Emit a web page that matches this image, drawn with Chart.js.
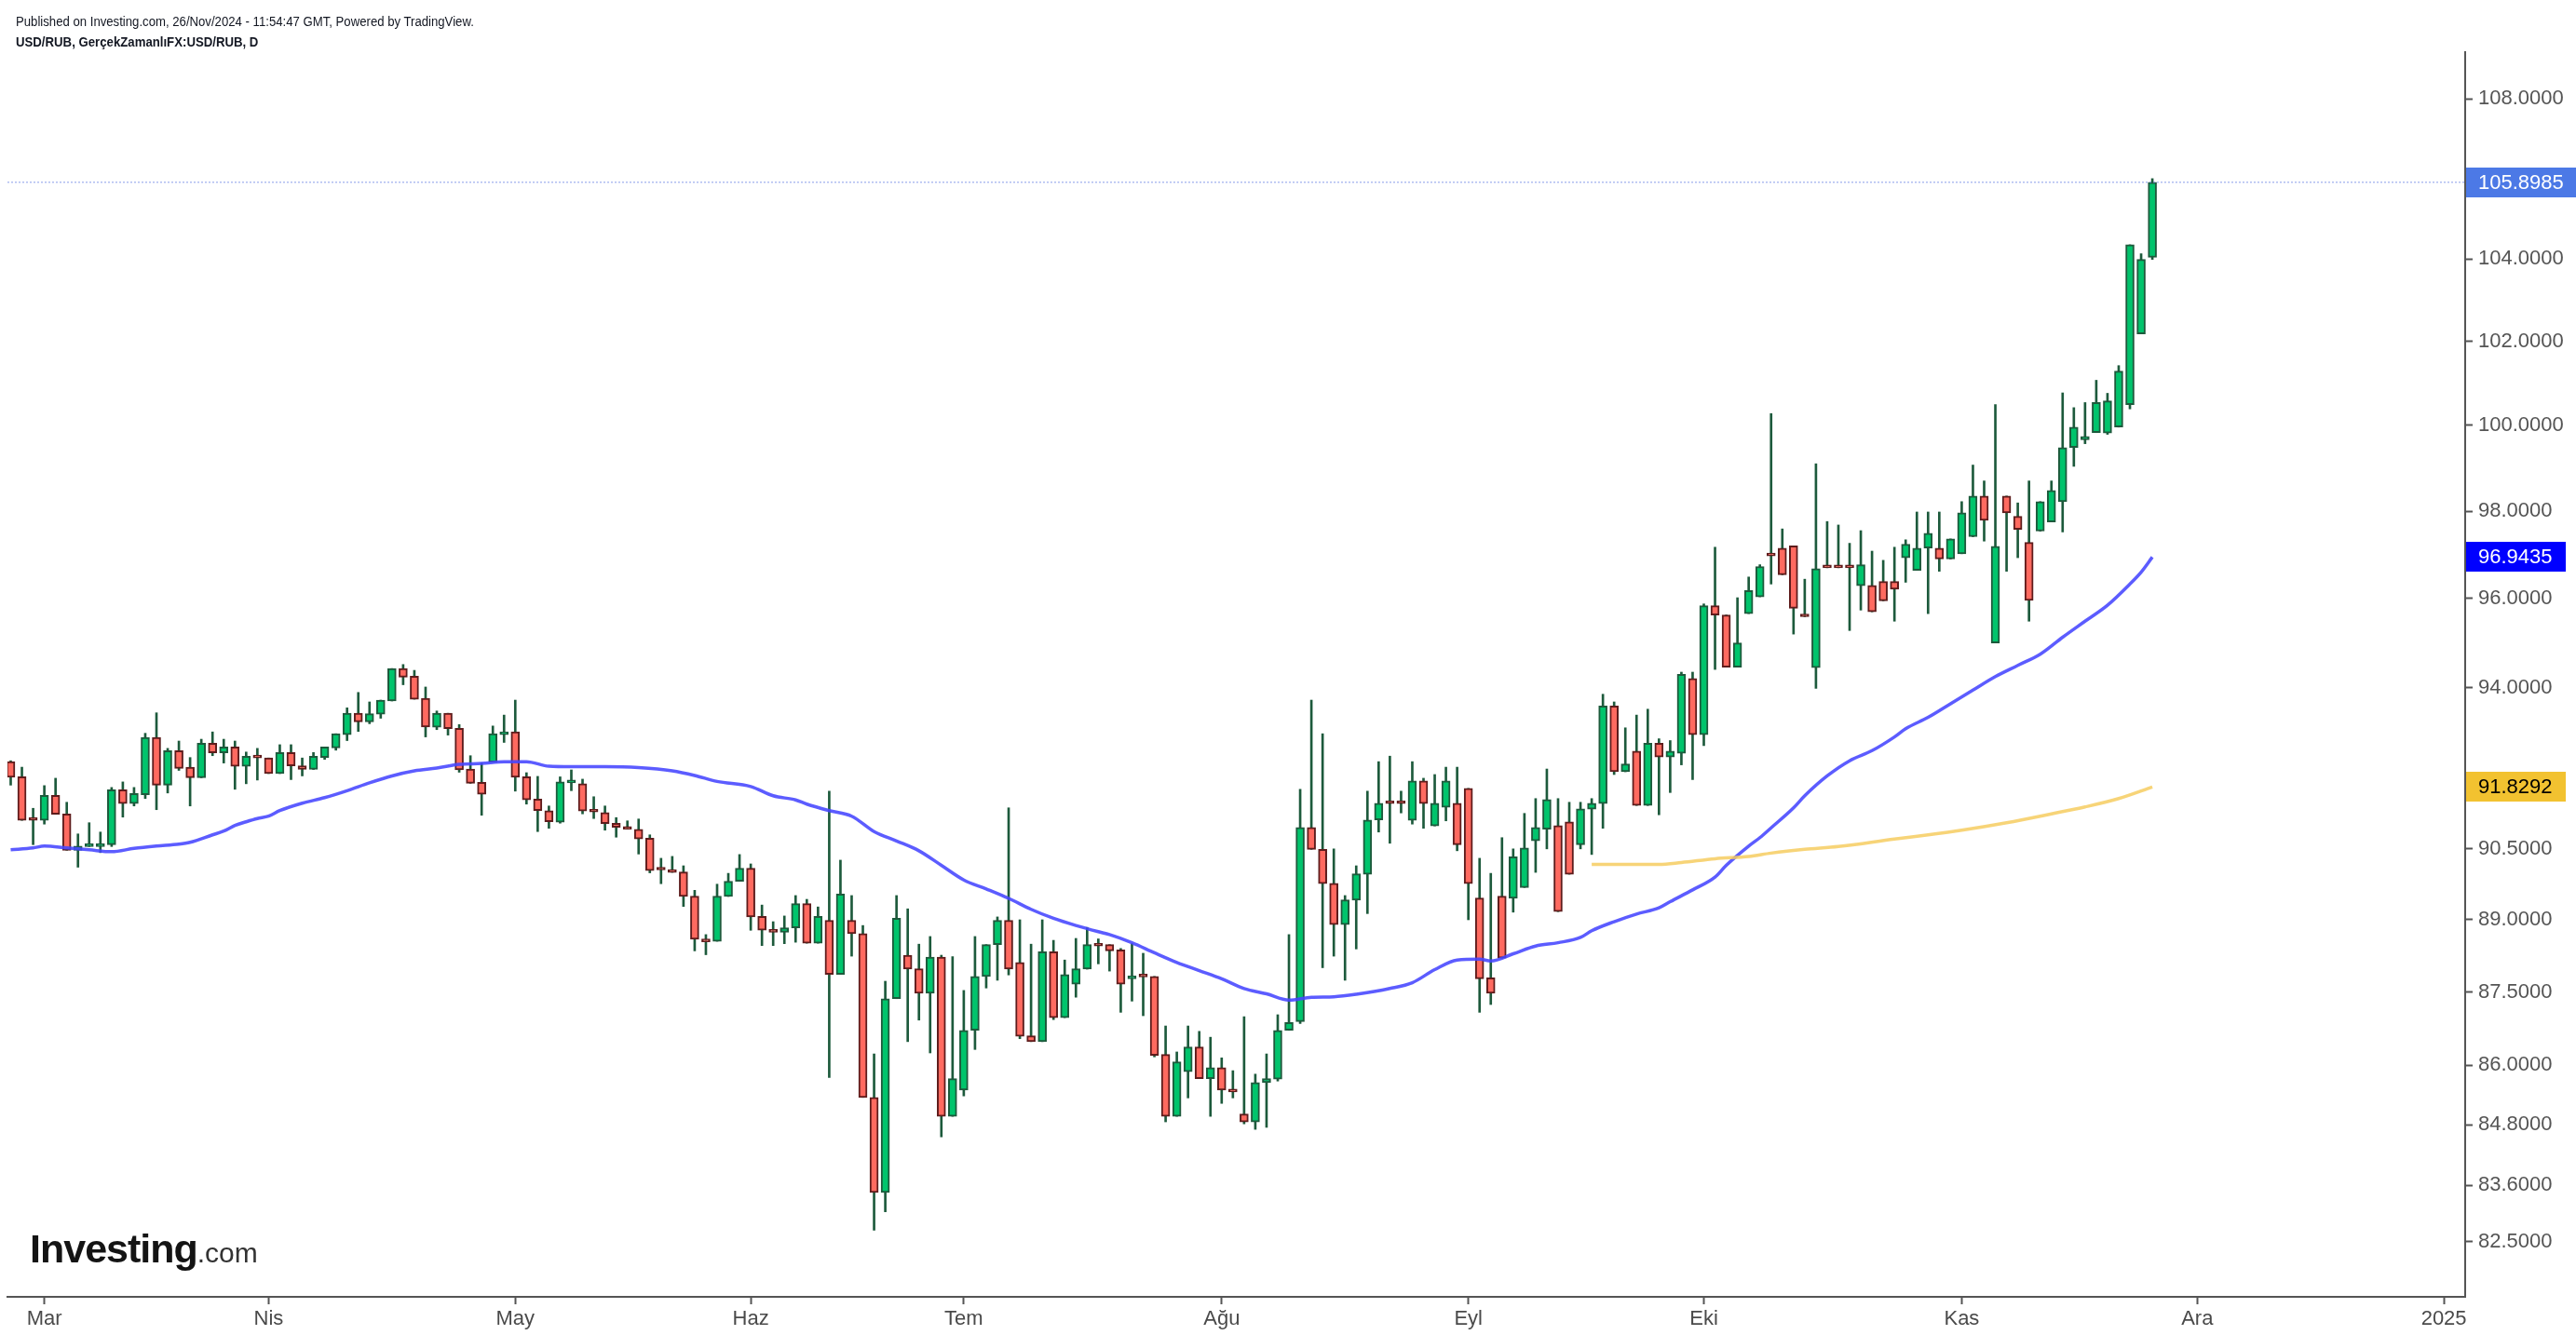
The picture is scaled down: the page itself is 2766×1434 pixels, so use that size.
<!DOCTYPE html>
<html>
<head>
<meta charset="utf-8">
<script src="https://cdn.jsdelivr.net/npm/chart.js@4.4.1/dist/chart.umd.min.js"></script>
<style>
html,body{margin:0;padding:0;background:#fff;}
#wrap{position:relative;width:2766px;height:1434px;overflow:hidden;background:#fff;}
#c{position:absolute;left:0;top:0;}
.hdr{position:absolute;left:17px;font-family:'Liberation Sans',Arial,sans-serif;color:#131722;white-space:nowrap;transform-origin:0 0;line-height:1;}
#h1{top:16px;font-size:14px;transform:scaleX(0.94);}
#h2{top:37px;font-size:15px;font-weight:bold;transform:scaleX(0.88);}
#logo{position:absolute;left:32px;top:1320px;white-space:nowrap;font-family:'Liberation Sans',Arial,sans-serif;line-height:1;}
#logo .a{font-size:43px;font-weight:bold;color:#141414;letter-spacing:-1px;}
#logo .b{font-size:30px;color:#333;}
</style>
</head>
<body>
<div id="wrap">
<canvas id="c" width="2766" height="1434"></canvas>
<div class="hdr" id="h1">Published on Investing.com, 26/Nov/2024 - 11:54:47 GMT, Powered by TradingView.</div>
<div class="hdr" id="h2">USD/RUB, GerçekZamanlıFX:USD/RUB, D</div>
<div id="logo"><span class="a">Investing</span><span class="b">.com</span></div>
</div>
<script>
// ---- data ----
const openVals = [92.38,92.05,91.13,91.11,91.65,91.25,90.47,90.55,90.55,90.59,
91.77,91.47,91.66,92.91,91.87,92.62,92.26,92.03,92.78,92.57,
92.70,92.28,92.48,92.46,92.12,92.58,92.29,92.21,92.47,92.68,
92.97,93.44,93.25,93.42,93.71,94.43,94.26,93.77,93.13,93.44,
93.11,92.22,91.93,92.37,92.97,93.03,92.05,91.57,91.32,91.07,
91.92,91.90,91.31,91.28,91.05,90.97,90.92,90.73,90.06,90.05,
90.01,89.50,88.60,88.55,89.49,89.81,90.09,89.07,88.79,88.74,
88.83,89.34,88.51,88.99,87.86,88.99,88.71,85.35,83.46,87.36,
88.26,87.98,87.47,88.22,84.97,85.50,86.71,87.82,88.48,88.99,
88.11,86.60,86.48,88.33,86.97,87.66,87.97,88.48,88.48,88.37,
87.77,87.82,87.82,86.22,84.97,85.87,86.37,85.73,85.95,85.50,
85.02,84.86,85.65,85.72,86.71,86.89,90.96,90.49,89.77,88.90,
89.41,89.96,91.12,91.50,91.49,91.11,91.96,90.99,91.39,91.48,
91.80,89.46,87.79,89.50,89.45,89.68,90.67,90.92,91.00,91.08,
90.59,91.35,91.47,93.60,92.16,92.61,91.43,92.78,92.48,92.56,
94.21,92.97,95.84,95.63,94.46,95.66,96.04,97.00,97.15,97.20,
95.61,94.45,96.72,96.72,96.72,96.29,96.30,96.39,96.39,96.93,
96.64,97.15,97.15,96.90,97.02,97.41,98.35,95.00,98.35,97.88,
97.28,97.54,97.75,98.22,99.48,99.66,99.83,99.82,99.96,100.49,
102.18,104.04];
const highVals = [92.40,92.26,91.37,91.86,92.02,91.50,90.82,91.06,90.86,91.82,
91.94,91.82,93.00,93.45,92.67,92.83,92.47,92.87,93.03,92.87,
92.83,92.59,92.67,92.46,92.75,92.75,92.46,92.58,92.70,92.99,
93.56,93.90,93.69,93.73,94.43,94.52,94.39,94.02,93.49,93.44,
93.19,92.51,92.35,93.16,93.40,93.73,92.14,92.06,91.42,92.05,
92.20,92.00,91.62,91.42,91.17,91.10,91.14,90.80,90.30,90.34,
90.14,89.62,88.69,89.75,89.98,90.38,90.18,89.31,88.96,89.08,
89.51,89.43,89.27,91.74,90.26,89.51,88.88,86.23,87.72,89.51,
89.23,88.49,88.65,88.26,88.23,87.53,88.65,88.48,89.06,91.38,
89.00,88.49,89.00,88.57,88.16,88.61,88.84,88.60,88.48,88.40,
88.50,88.30,87.82,86.80,86.27,86.80,86.69,86.57,86.15,85.89,
86.99,85.82,86.23,87.03,88.69,91.78,93.73,92.99,90.50,89.51,
90.14,91.74,92.38,92.50,91.74,92.38,92.02,92.10,92.26,92.26,
91.80,90.30,89.98,90.74,90.50,91.26,91.58,92.22,91.58,91.50,
91.50,91.58,93.86,93.69,93.12,93.40,93.53,92.88,92.84,94.35,
94.35,95.88,97.17,95.63,96.02,96.49,96.77,100.28,97.59,97.20,
96.44,99.10,97.76,97.68,97.26,97.55,97.08,96.87,97.17,97.34,
97.98,97.98,97.98,97.36,98.22,99.07,98.70,100.49,98.35,98.19,
98.70,98.22,98.70,100.77,100.42,100.54,101.07,100.76,101.42,104.35,
104.13,105.99];
const lowVals = [91.87,91.11,90.59,91.03,91.24,90.47,90.11,90.55,90.42,90.55,
91.18,91.42,91.58,91.34,91.70,92.19,91.42,92.03,92.51,92.35,
91.78,91.90,91.98,92.12,92.12,91.99,92.07,92.21,92.43,92.63,
92.84,93.04,93.21,93.33,93.71,94.07,93.75,92.92,93.08,92.96,
92.15,91.91,91.22,92.37,92.80,91.74,91.46,90.87,90.94,91.05,
91.75,91.25,91.15,90.90,90.75,90.92,90.39,89.99,89.76,90.00,
89.28,88.35,88.27,88.55,89.49,89.81,88.78,88.46,88.46,88.50,
88.53,88.51,88.51,85.75,87.86,88.24,85.35,82.72,83.08,87.36,
86.48,86.92,86.25,84.56,84.97,85.38,86.32,87.58,87.74,87.85,
86.54,86.48,86.48,86.93,86.97,87.39,87.97,88.08,87.93,87.08,
87.31,87.01,86.17,84.86,84.97,85.34,85.73,84.97,85.23,85.34,
84.82,84.71,84.75,85.68,86.71,86.85,90.49,88.00,88.24,87.74,
88.39,89.13,90.86,90.62,91.27,91.03,90.94,90.99,91.10,90.46,
89.00,87.08,87.24,88.20,89.16,89.68,90.00,90.50,89.17,89.96,
90.50,90.38,90.94,92.10,92.16,91.43,91.43,91.23,91.71,92.31,
91.99,92.73,94.41,94.46,94.46,95.66,96.04,96.33,96.54,95.20,
95.59,93.99,96.70,96.70,95.28,95.74,95.70,95.95,95.49,96.37,
96.64,95.66,96.62,96.90,97.02,97.41,97.31,95.00,96.62,96.93,
95.49,97.54,97.75,97.52,99.04,99.57,99.83,99.79,99.96,100.39,
102.18,103.99];
const closeVals = [92.04,91.11,91.11,91.65,91.24,90.47,90.56,90.57,90.60,91.77,
91.47,91.69,92.91,91.87,92.62,92.23,92.03,92.78,92.57,92.70,
92.28,92.50,92.46,92.12,92.58,92.29,92.21,92.50,92.70,92.99,
93.44,93.25,93.43,93.73,94.43,94.24,93.75,93.14,93.44,93.10,
92.20,91.91,91.67,92.99,93.03,92.04,91.55,91.32,91.08,91.94,
91.96,91.31,91.29,91.04,90.96,90.92,90.71,90.04,90.05,90.00,
89.49,88.59,88.54,89.50,89.81,90.09,89.06,88.78,88.74,88.83,
89.34,88.51,89.07,87.86,89.54,88.71,85.35,83.46,87.36,89.03,
87.97,87.47,88.22,84.97,85.73,86.71,87.82,88.48,88.99,87.97,
86.59,86.48,88.33,86.97,87.86,87.98,88.48,88.45,88.35,87.66,
87.82,87.81,86.20,84.97,86.07,86.37,85.73,85.95,85.50,85.46,
84.86,85.65,85.73,86.71,86.87,90.96,90.49,89.76,88.90,89.42,
89.97,91.12,91.48,91.47,91.47,91.96,91.47,91.48,91.96,90.59,
89.76,87.77,87.47,88.20,90.33,90.52,90.96,91.56,89.17,89.96,
91.36,91.48,93.60,92.16,92.33,91.43,92.78,92.48,92.61,94.30,
92.97,95.84,95.63,94.46,95.00,96.18,96.73,96.97,96.54,95.78,
95.59,96.68,96.70,96.70,96.70,96.77,95.70,95.95,96.21,97.24,
97.15,97.49,96.90,97.36,97.96,98.35,97.79,97.19,97.96,97.58,
95.96,98.22,98.48,99.48,99.96,99.74,100.54,100.58,101.29,104.35,
103.99,105.8985];

const ma50Idx = [0,2,3,5,7,9,11,13,15,16,18,19,20,21,22,23,24,26,28,30,
32,34,36,38,40,42,44,46,48,50,53,56,59,61,63,66,68,70,71,73,
75,77,79,81,83,85,87,89,91,93,95,97,98,100,102,104,106,108,110,112,
114,116,118,120,123,125,127,129,131,132,134,136,138,140,141,143,145,147,148,150,
152,153,155,156,157,159,160,162,164,166,168,169,171,173,175,177,179,181,183,185,
187,189,190,191];
const ma50Vals = [90.48,90.52,90.56,90.52,90.48,90.44,90.51,90.56,90.60,90.64,
90.80,90.88,91.00,91.08,91.15,91.20,91.32,91.48,91.60,91.75,
91.92,92.07,92.18,92.24,92.32,92.34,92.38,92.38,92.28,92.27,
92.27,92.25,92.18,92.08,91.95,91.84,91.64,91.55,91.46,91.32,
91.20,90.87,90.67,90.46,90.15,89.84,89.65,89.45,89.22,89.03,
88.88,88.75,88.69,88.52,88.31,88.11,87.94,87.77,87.57,87.46,
87.33,87.39,87.40,87.45,87.57,87.69,87.96,88.16,88.18,88.14,
88.29,88.45,88.52,88.63,88.77,88.96,89.12,89.25,89.38,89.63,
89.90,90.15,90.56,90.74,90.95,91.38,91.64,92.07,92.40,92.62,
92.92,93.10,93.35,93.65,93.95,94.25,94.50,94.75,95.13,95.49,
95.85,96.33,96.60,96.9435];

const ma200Idx = [141,147,149,152,155,157,160,163,168,171,174,178,182,185,188,191];
const ma200Vals = [90.17,90.17,90.21,90.29,90.34,90.41,90.49,90.55,90.71,90.80,90.90,91.06,91.25,91.40,91.58,91.8292];

const monthTickIdx = [3,23,45,66,85,108,130,151,174,195,217];
const monthTickLabels = ['Mar','Nis','May','Haz','Tem','Ağu','Eyl','Eki','Kas','Ara','2025'];
const priceTicks = [82.5,83.6,84.8,86,87.5,89,90.5,94,96,98,100,102,104,108];

// ---- chart ----
const FONT = "'Liberation Sans', Arial, sans-serif";
const GREEN = '#00c46c', GREEN_D = '#1d5a3c', RED = '#ff6a60', RED_D = '#5e1c1c';
const X_MIN = -0.29, X_MAX = 218.9;
const lastI = closeVals.length - 1;
const up = closeVals.map((c, i) => c >= openVals[i]);

const bodies = closeVals.map((c, i) => ({x: i, y: [openVals[i], c]}));
const wicks = closeVals.map((c, i) => ({x: i, y: [lowVals[i], highVals[i]]}));

const badgePlugin = {
  id: 'badges',
  afterDraw(chart) {
    const ys = chart.scales.y, ctx = chart.ctx;
    const items = [
      {v: closeVals[lastI], bg: '#4c79e6', fg: '#ffffff'},
      {v: ma50Vals[ma50Vals.length - 1], bg: '#0000ff', fg: '#ffffff'},
      {v: ma200Vals[ma200Vals.length - 1], bg: '#f2c230', fg: '#000000'}
    ];
    ctx.save();
    ctx.font = '22px ' + FONT;
    ctx.textBaseline = 'middle';
    ctx.textAlign = 'left';
    for (const it of items) {
      const py = ys.getPixelForValue(it.v);
      const txt = it.v.toFixed(4);
      const w = ctx.measureText(txt).width;
      ctx.fillStyle = it.bg;
      ctx.fillRect(ys.left + 1, Math.round(py - 16), Math.ceil(w + 27), 32);
      ctx.fillStyle = it.fg;
      ctx.fillText(txt, ys.left + 14, py + 1);
    }
    ctx.restore();
  }
};

new Chart(document.getElementById('c'), {
  type: 'bar',
  data: {
    datasets: [
      {
        type: 'line', label: 'last', order: 0,
        data: [{x: X_MIN, y: closeVals[lastI]}, {x: X_MAX, y: closeVals[lastI]}],
        borderColor: 'rgba(110,135,230,0.55)', borderWidth: 1.5, borderDash: [2, 2],
        pointRadius: 0
      },
      {
        type: 'line', label: 'MA200', order: 0,
        data: ma200Idx.map((x, i) => ({x, y: ma200Vals[i]})),
        borderColor: 'rgba(246,204,96,0.85)', borderWidth: 3.5,
        pointRadius: 0, cubicInterpolationMode: 'monotone'
      },
      {
        type: 'line', label: 'MA50', order: 0,
        data: ma50Idx.map((x, i) => ({x, y: ma50Vals[i]})),
        borderColor: 'rgba(70,70,255,0.88)', borderWidth: 3.5,
        pointRadius: 0, cubicInterpolationMode: 'monotone'
      },
      {
        label: 'body', order: 1, data: bodies, grouped: false,
        barThickness: 9, minBarLength: 3, borderWidth: 2, borderSkipped: false,
        backgroundColor: ctx => up[ctx.dataIndex] ? GREEN : RED,
        borderColor: ctx => up[ctx.dataIndex] ? GREEN_D : RED_D
      },
      {
        label: 'wick', order: 2, data: wicks, grouped: false,
        barThickness: 2, borderWidth: 0, backgroundColor: GREEN_D
      }
    ]
  },
  options: {
    responsive: false,
    devicePixelRatio: 1,
    animation: false,
    layout: {padding: {top: 56, left: 8, right: 0, bottom: 0}},
    plugins: {legend: {display: false}, tooltip: {enabled: false}},
    scales: {
      x: {
        type: 'linear', min: X_MIN, max: X_MAX, offset: false, bounds: 'data',
        afterBuildTicks: s => { s.ticks = monthTickIdx.map(v => ({value: v})); },
        afterFit: s => { s.height = 41; },
        ticks: {
          callback: (v, i) => monthTickLabels[i],
          color: '#4a4a4a', font: {size: 22, family: FONT}, padding: 3,
          autoSkip: false, maxRotation: 0, minRotation: 0
        },
        grid: {display: true, offset: false, drawOnChartArea: false, drawTicks: true, tickLength: 8, tickColor: '#555', tickWidth: 2},
        border: {display: true, color: '#555', width: 2}
      },
      y: {
        type: 'logarithmic', position: 'right', min: 81.431, max: 109.198, bounds: 'data',
        afterBuildTicks: s => { s.ticks = priceTicks.map(v => ({value: v})); },
        afterFit: s => { s.width = 119; },
        ticks: {
          callback: v => Number(v).toFixed(4),
          color: '#555', font: {size: 22, family: FONT}, padding: 6,
          autoSkip: false, maxRotation: 0
        },
        grid: {display: true, offset: false, drawOnChartArea: false, drawTicks: true, tickLength: 8, tickColor: '#555', tickWidth: 2},
        border: {display: true, color: '#555', width: 2}
      }
    }
  },
  plugins: [badgePlugin]
});
</script>
</body>
</html>
